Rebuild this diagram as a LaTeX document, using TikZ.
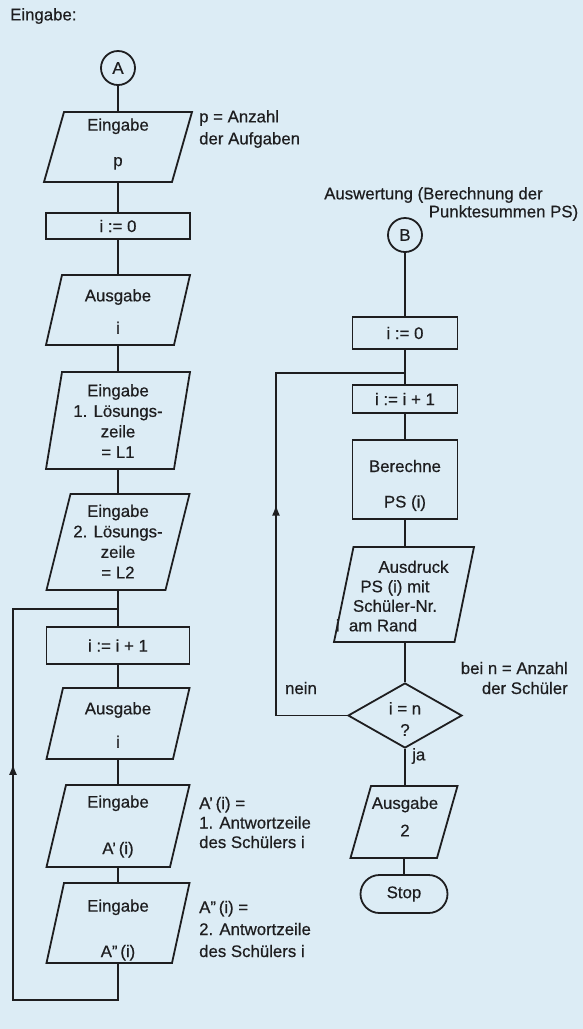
\documentclass[tikz,border=0pt]{standalone}
\usepackage{fontspec}
\setmainfont{Liberation Sans}
\newfontfamily\dgmfont{Liberation Sans}[FakeBold=0.5,Ligatures=TeX]
\usetikzlibrary{shapes.geometric,arrows.meta,decorations.markings}
\definecolor{bg}{RGB}{220,236,245}
\definecolor{ink}{RGB}{30,30,32}
% parallelogram: name, cx, cy, mean width, height, slant
\newcommand\pgm[6]{%
  \node[shp, minimum width={#4+#6}, minimum height=#5] (#1) at (#2,#3) {};
  \draw[ln] ({#2-#4/2-#6/2},{#3+#5/2}) -- ({#2+#4/2-#6/2},{#3+#5/2}) -- ({#2+#4/2+#6/2},{#3-#5/2}) -- ({#2-#4/2+#6/2},{#3-#5/2}) -- cycle;}
\begin{document}
\begin{tikzpicture}[x=1pt,y=-1pt,
  ln/.style={draw=ink, line width=1.8pt},
  shp/.style={rectangle, draw=none, inner sep=0pt},
  txt/.style={font=\dgmfont\fontsize{16.8}{20.5}\selectfont, text=ink, align=center, inner sep=0pt},
  box/.style={txt, rectangle, draw=ink, line width=1.8pt},
  con/.style={txt, circle, draw=ink, line width=1.8pt, minimum size=34pt},
  term/.style={txt, rectangle, rounded corners=19pt, draw=ink, line width=1.8pt},
  dec/.style={txt, diamond, draw=ink, line width=1.8pt, aspect=1.75}]
\fill[bg] (0,0) rectangle (583,1029);
\useasboundingbox (0,0) rectangle (583,1029);

% ---------- left column ----------
\node[txt, anchor=west] (lbl0) at (10,16) {Eingabe:};
\node[con] (A) at (118,68) {A};
\pgm{p1}{118}{147}{128}{70}{20}
\node[txt] (p1t) at (118,144) {Eingabe\\[15pt]p};
\node[txt, anchor=west, align=left] (lp) at (199,129) {p = Anzahl\\[1.5pt]der Aufgaben};
\node[box, minimum width=144, minimum height=26] (r1) at (118,226) {i := 0};
\pgm{p2}{118}{310}{128}{70}{16}
\node[txt] (p2t) at (118,311.5) {Ausgabe\\[12pt]i};
\pgm{p3}{118}{420.5}{128}{97}{16}
\node[txt] (p3t) at (118,421) {Eingabe\\1. Lösungs-\\zeile\\= L1};
\pgm{p4}{118}{542}{119}{96}{24}
\node[txt] (p4t) at (118,541.5) {Eingabe\\2. Lösungs-\\zeile\\= L2};
\node[box, minimum width=143, minimum height=37] (r2) at (118,645.5) {i := i + 1};
\pgm{p5}{118}{723.5}{126.5}{71}{16.5}
\node[txt] (p5t) at (118,725) {Ausgabe\\[13pt]i};
\pgm{p6}{118}{826}{123.5}{82}{19.5}
\node[txt] (p6t) at (118,826.5) {Eingabe\\[26pt]A'\,(i)};
\node[txt, anchor=west, align=left] (la1) at (199,822.5) {A'\,(i) =\\[-1pt]1. Antwortzeile\\[-1pt]des Schülers i};
\pgm{p7}{118}{923}{125.5}{80}{17.5}
\node[txt] (p7t) at (118,930) {Eingabe\\[25pt]A''\,(i)};
\node[txt, anchor=west, align=left] (la2) at (199,929) {A''\,(i) =\\[1.5pt]2. Antwortzeile\\[1.5pt]des Schülers i};

\coordinate (lb) at (13,1000);
\coordinate (lj) at (118,609);

\draw[ln] (A.south) -- (p1.north);
\draw[ln] (p1.south) -- (r1.north);
\draw[ln] (r1.south) -- (p2.north);
\draw[ln] (p2.south) -- (p3.north);
\draw[ln] (p3.south) -- (p4.north);
\draw[ln] (p4.south) -- (r2.north);
\draw[ln] (r2.south) -- (p5.north);
\draw[ln] (p5.south) -- (p6.north);
\draw[ln] (p6.south) -- (p7.north);
\draw[ln, postaction={decorate}, decoration={markings, mark=at position 378pt with {\arrow{Latex[length=11pt,width=8pt]}}}]
  (p7.south) |- (lb) |- (lj);

% ---------- right column ----------
\node[txt] (ta) at (433.5,195) {Auswertung (Berechnung der};
\node[txt] (tb) at (503.5,213) {Punktesummen PS)};
\node[con] (B) at (405,235) {B};
\node[box, minimum width=105, minimum height=32] (r3) at (405,333) {i := 0};
\node[box, minimum width=105, minimum height=28] (r4) at (405,399) {i := i + 1};
\node[box, minimum width=105, minimum height=79] (r5) at (405,479.5) {\rule{0pt}{24pt}Berechne\\[15pt]PS (i)};
\pgm{p8}{404}{594.5}{120.5}{95}{19.5}
\node[txt] (p8t) at (395,596) {\hspace*{37pt}Ausdruck\\[-1pt]PS (i) mit\\[-1pt]Schüler-Nr.\hspace*{7pt}\\[-1pt]i\ \ am Rand\hspace*{37pt}};
\node[dec, minimum width=114, minimum height=65] (dia) at (405,715.5) {\rule{0pt}{19pt}i = n\\[1pt]?};
\node[txt, anchor=east, align=right] (lbn) at (568,678) {bei n = Anzahl\\[-0.5pt]der Schüler};
\node[txt] (lnein) at (301,688) {nein};
\node[txt, anchor=west] (lja) at (412,756) {ja};
\pgm{p9}{404}{822}{86.5}{72}{20.5}
\node[txt] (p9t) at (405,816.5) {Ausgabe\\[7pt]2};
\node[term, minimum width=87, minimum height=38] (stop) at (404,894) {Stop};

\coordinate (cr) at (276,373);
\coordinate (jr) at (405,373);

\draw[ln] (B.south) -- (r3.north);
\draw[ln] (r3.south) -- (r4.north);
\draw[ln] (r4.south) -- (r5.north);
\draw[ln] (r5.south) -- (r5.south |- p8.north);
\draw[ln] (p8.south -| dia.north) -- (dia.north);
\draw[ln] (dia.south) -- (dia.south |- p9.north);
\draw[ln] (p9.south) -- (stop.north);
\draw[ln, postaction={decorate}, decoration={markings, mark=at position 282pt with {\arrow{Latex[length=11pt,width=8pt]}}}]
  (dia.west) -| (cr) -- (jr);
\end{tikzpicture}
\end{document}
